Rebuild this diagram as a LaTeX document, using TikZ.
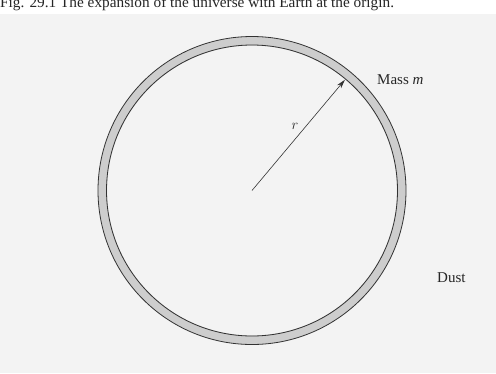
\documentclass[tikz,border=0pt]{standalone}
\usepackage{fontspec}
\setmainfont{Liberation Serif}
\usetikzlibrary{arrows.meta,calc}
\definecolor{bg}{RGB}{243,243,243}
\definecolor{ringfill}{RGB}{205,205,205}
\definecolor{ringline}{RGB}{50,50,50}
\tikzset{
  lbl/.style={font=\fontsize{15}{17}\selectfont, inner sep=0pt, text=black!85},
  ttl/.style={font=\fontsize{15.3}{17}\selectfont, inner sep=0pt, anchor=base west, text=black!85},
  radius arrow/.style={-{Stealth[length=9pt,width=5pt]}, line width=0.6pt, black!80},
  ringedge/.style={draw=ringline, line width=0.8pt}
}
\begin{document}
\begin{tikzpicture}[x=1pt,y=-1pt]
\useasboundingbox (0,0) rectangle (496,373);
\fill[bg] (0,14) rectangle (496,373);
\fill[white] (0,0) rectangle (496,14);
\node[ttl] (title) at (0,7) {Fig. 29.1 The expansion of the universe with Earth at the origin.};
\coordinate (O) at (252,190.5);
\fill[ringfill, even odd rule] (O) circle[radius=154] (O) circle[radius=145];
\draw[ringedge] (O) circle[radius=154];
\draw[ringedge] (O) circle[radius=145.5];
\coordinate (P) at ($(O)+(-50:144.5)$);
\draw[radius arrow] (O) -- (P);
\node[lbl] (r) at (295,126) {$r$};
\node[lbl, anchor=west] (mass) at (377,80) {Mass \textit{m}};
\node[lbl, anchor=west] (dust) at (437,278) {Dust};
\end{tikzpicture}
\end{document}
